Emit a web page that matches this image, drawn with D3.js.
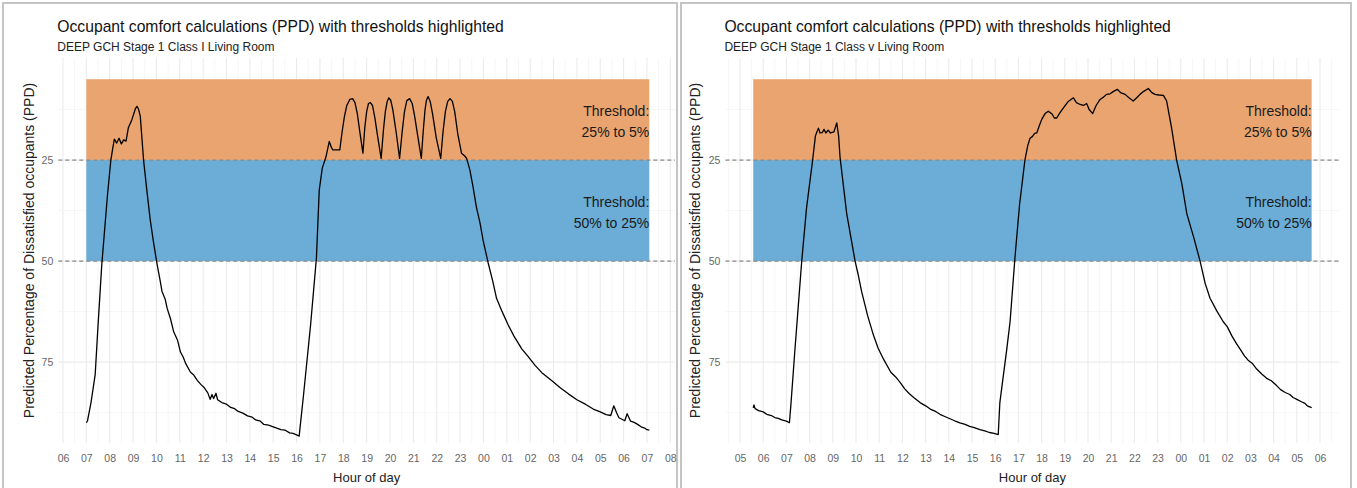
<!DOCTYPE html>
<html><head><meta charset="utf-8">
<script src="https://cdn.jsdelivr.net/npm/d3@7"></script>
<style>
html,body{margin:0;padding:0;background:#fff;}
svg{display:block;font-family:"Liberation Sans",Arial,sans-serif;}
</style></head>
<body>
<svg id="chart" width="1357" height="488"></svg>
<script>
// ---------- DATA ----------
const chartTitle = "Occupant comfort calculations (PPD) with thresholds highlighted";
const subtitles = ["DEEP GCH Stage 1 Class I Living Room", "DEEP GCH Stage 1 Class v Living Room"];
const yAxisTitle = "Predicted Percentage of Dissatisfied occupants (PPD)";
const xAxisTitle = "Hour of day";

// hours counted from midnight of day 1 (24+ = next day)
const leftHours = [7.00,7.05,7.2,7.38,7.5,7.66,7.9,8.05,8.12,8.2,8.3,8.4,8.5,8.6,8.7,8.8,8.95,9.1,9.17,9.24,9.31,9.45,9.6,9.74,9.88,10.03,10.15,10.24,10.38,10.46,10.6,10.74,10.9,11.03,11.15,11.25,11.46,11.6,11.75,11.9,12.03,12.2,12.3,12.38,12.45,12.55,12.62,12.8,13.0,13.18,13.35,13.5,13.7,13.9,14.1,14.25,14.45,14.6,14.8,15.0,15.15,15.33,15.5,15.7,15.85,16.0,16.11,16.3,16.6,16.85,16.97,17.1,17.26,17.4,17.5,17.55,17.85,17.95,18.05,18.15,18.28,18.4,18.5,18.6,18.72,18.84,18.92,19.0,19.08,19.16,19.25,19.35,19.48,19.62,19.72,19.8,19.88,19.95,20.03,20.12,20.26,20.41,20.52,20.62,20.72,20.84,20.95,21.05,21.2,21.34,21.42,21.5,21.56,21.63,21.72,21.82,21.98,22.17,22.27,22.37,22.47,22.57,22.67,22.77,22.9,23.06,23.2,23.28,23.42,23.55,23.7,23.85,23.99,24.2,24.4,24.56,24.8,25.06,25.3,25.64,25.9,26.21,26.5,26.93,27.3,27.65,28.0,28.36,28.7,29.0,29.25,29.45,29.58,29.7,29.8,30.05,30.15,30.3,30.45,30.6,30.75,30.9,31.0,31.1];
const leftPPD   = [90,89.5,85,78,66,51,34,25,22.5,19.8,20.8,19.6,21,20,20.3,17,15,12.3,11.7,12.5,14.2,25,33,40,45.5,50.8,54.5,57.5,59.5,61.7,64.2,67.5,69.5,72.5,73.8,75.3,77.5,78.2,79.5,80.5,81.2,82.6,84.2,83,84,82.7,84.3,85,85.4,86.2,86.5,87.2,87.6,88.3,88.6,89.3,89.6,90.4,90.6,91.0,91.3,91.7,91.8,92.5,92.6,93.0,93.3,83,65.8,49.2,32.5,27,24.2,20.4,22,22.5,22.5,18,14.2,11.5,10.0,9.8,10.8,13.5,18.5,23.3,17,13,11,10.8,11.5,14.5,19.5,24.6,17.5,13,10.5,9.6,10.2,12.5,18,24.6,18,13,10.3,9.8,11,14,19.5,24.6,18,12.5,10.2,9.3,10.5,13.5,19.5,24.6,18,13,10.5,9.8,10.5,13,18.5,23.3,24,24.6,27.5,31.5,36.7,40.5,45,50.4,55,59.2,62.5,65.8,68.5,71.7,73.5,75.8,77.6,79.6,81.4,82.9,84.3,85.4,86.6,87.3,88,88.2,85.8,87.5,88.75,89.5,87.75,89.6,89.9,90.4,91,91.3,91.7,91.8];

const rightHours = [5.57,5.6,5.65,5.8,6.0,6.15,6.35,6.5,6.65,6.8,7.0,7.13,7.2,7.37,7.66,7.87,8.13,8.25,8.38,8.45,8.55,8.62,8.7,8.8,8.9,9.05,9.17,9.25,9.31,9.6,9.96,10.1,10.24,10.5,10.75,10.95,11.18,11.5,11.7,11.9,12.1,12.3,12.5,12.76,13.0,13.2,13.4,13.62,13.85,14.05,14.25,14.48,14.7,14.9,15.1,15.34,15.55,15.75,15.95,16.13,16.2,16.5,16.64,16.85,17.05,17.28,17.4,17.5,17.6,17.7,17.79,17.9,18.0,18.15,18.29,18.45,18.55,18.65,18.8,18.94,19.15,19.37,19.5,19.66,19.8,19.94,20.05,20.2,20.35,20.52,20.65,20.8,20.95,21.1,21.26,21.4,21.6,21.75,21.95,22.1,22.24,22.4,22.6,22.75,22.89,23.05,23.25,23.39,23.6,23.82,24.05,24.26,24.55,24.83,25.05,25.26,25.55,25.83,26.0,26.2,26.4,26.55,26.75,26.9,27.1,27.27,27.5,27.7,27.9,28.13,28.3,28.5,28.7,28.84,29.0,29.2,29.35,29.45,29.64];
const rightPPD   = [86.3,85.6,86.5,87,87.3,87.9,88.2,88.7,88.9,89.3,89.6,90,85,71.7,50,36.7,25,19,17.1,18.3,18.2,17.4,18.3,17.6,18.3,18,15.8,19,24.2,38.3,50,53.5,57.5,63.5,68.3,71.5,74.2,77.5,78.6,80,81.6,82.8,83.8,85,85.8,86.6,87.1,87.9,88.5,89,89.5,90,90.4,90.9,91.2,91.7,92.0,92.4,92.6,92.9,85,71.7,65,49.2,36,25,21.5,19.6,19.2,18.4,18.3,16.5,15,13.5,12.9,13.6,14.6,14.6,13.2,12.1,10.5,9.6,10.8,11.25,11.5,11,12.5,13.5,11.5,10,9.5,8.75,8.6,8.0,7.5,8.3,8.75,9.5,10.4,9.6,8.75,8.0,7.3,8.3,8.75,8.9,9,10.4,17,25,31,38.3,44,50,55.5,59.2,62.3,65,66.2,68.5,70.4,71.7,73.5,74.5,75.4,76.7,78,79,79.6,80.8,81.8,82.5,83,83.75,84.2,84.8,85.2,85.8,86.25];

const leftTickHours  = [6,7,8,9,10,11,12,13,14,15,16,17,18,19,20,21,22,23,24,25,26,27,28,29,30,31,32];
const leftTickLabels = ["06","07","08","09","10","11","12","13","14","15","16","17","18","19","20","21","22","23","00","01","02","03","04","05","06","07","08"];
const rightTickHours  = [5,6,7,8,9,10,11,12,13,14,15,16,17,18,19,20,21,22,23,24,25,26,27,28,29,30];
const rightTickLabels = ["05","06","07","08","09","10","11","12","13","14","15","16","17","18","19","20","21","22","23","00","01","02","03","04","05","06"];

const yTicks = [25, 50, 75];
const yMinorTicks = [12.5, 37.5, 62.5, 87.5];
const bandNames  = ["Threshold:\n25% to 5%", "Threshold:\n50% to 25%"];
const bandLow    = [5, 25];
const bandHigh   = [25, 50];
const bandColors = ["#E89D65", "#60A7D3"];
const dashedLevels = [25, 50];

// ---------- DRAW ----------
const svg = d3.select("#chart");

function drawPanel(cfg) {
  const g = svg.append("g");
  g.append("rect").attr("x", cfg.frame[0]).attr("y", 3).attr("width", cfg.frame[1]-cfg.frame[0]).attr("height", 490)
    .attr("fill","none").attr("stroke","#C4C4C4").attr("stroke-width",2);

  const x = d3.scaleLinear().domain(cfg.xDomain).range([cfg.left, cfg.right]);
  const y = d3.scaleLinear().domain([-0.25, 95]).range([58, 443]);
  const minorX = d3.range(Math.ceil(cfg.xDomain[0]*2)/2, cfg.xDomain[1], 0.5).filter(v => v % 1 !== 0);

  const grid = g.append("g");
  grid.selectAll(".hmin").data(yMinorTicks).join("line")
    .attr("x1", cfg.left).attr("x2", cfg.right).attr("y1", d=>y(d)).attr("y2", d=>y(d))
    .attr("stroke","#F0F0F0").attr("stroke-width",0.6);
  grid.selectAll(".vmin").data(minorX).join("line")
    .attr("y1", 58).attr("y2", 443).attr("x1", d=>x(d)).attr("x2", d=>x(d))
    .attr("stroke","#F0F0F0").attr("stroke-width",0.6);
  grid.selectAll(".hmaj").data(yTicks).join("line")
    .attr("x1", cfg.left).attr("x2", cfg.right).attr("y1", d=>y(d)).attr("y2", d=>y(d))
    .attr("stroke","#EBEBEB").attr("stroke-width",1.1);
  grid.selectAll(".vmaj").data(cfg.tickHours).join("line")
    .attr("y1", 58).attr("y2", 443).attr("x1", d=>x(d)).attr("x2", d=>x(d))
    .attr("stroke","#EBEBEB").attr("stroke-width",1.1);

  const x0 = d3.min(cfg.hours), x1 = d3.max(cfg.hours);
  g.selectAll(".band").data(bandLow).join("rect")
    .attr("x", x(x0)).attr("width", x(x1)-x(x0))
    .attr("y", (d,i)=>y(bandLow[i])).attr("height", (d,i)=>y(bandHigh[i])-y(bandLow[i]))
    .attr("fill", (d,i)=>bandColors[i]).attr("opacity",0.93);

  g.selectAll(".dash").data(dashedLevels).join("line")
    .attr("x1", cfg.left).attr("x2", cfg.right).attr("y1", d=>y(d)).attr("y2", d=>y(d))
    .attr("stroke","#8A8A8A").attr("stroke-width",1.2).attr("stroke-dasharray","4,3");

  bandNames.forEach((name,i) => {
    const mid = (bandLow[i]+bandHigh[i])/2;
    const lines = name.split("\n");
    const t = g.append("text").attr("text-anchor","end").attr("font-size",14).attr("fill","#1a1a1a");
    lines.forEach((ln,j) => {
      t.append("tspan").attr("x", x(x1)).attr("y", y(mid) + (j===0 ? -4 : 17)).text(ln);
    });
  });

  const pts = cfg.hours.map((h,i)=>[h, cfg.values[i]]);
  g.append("path").datum(pts)
    .attr("d", d3.line().x(d=>x(d[0])).y(d=>y(d[1])))
    .attr("fill","none").attr("stroke","#000").attr("stroke-width",1.3).attr("stroke-linejoin","round");

  const xAxis = d3.axisBottom(x).tickValues(cfg.tickHours).tickFormat((d,i)=>cfg.tickLabels[i]).tickSize(0).tickPadding(0);
  const xa = g.append("g").attr("transform","translate(0,455)").call(xAxis);
  xa.select(".domain").remove();
  xa.selectAll("text").attr("font-size",10.5).attr("fill","#666").attr("font-family","Liberation Sans, Arial, sans-serif");

  const yAxis = d3.axisLeft(y).tickValues(yTicks).tickSize(0).tickPadding(0);
  const ya = g.append("g").attr("transform",`translate(${cfg.left-5},0)`).call(yAxis);
  ya.select(".domain").remove();
  ya.selectAll("text").attr("font-size",10.5).attr("fill","#666").attr("font-family","Liberation Sans, Arial, sans-serif");

  g.append("text").attr("x", cfg.left-1).attr("y", 32).attr("font-size",15.7).attr("fill","#111").text(chartTitle);
  g.append("text").attr("x", cfg.left-1).attr("y", 51).attr("font-size",12).attr("fill","#222").text(cfg.subtitle);
  g.append("text").attr("x", (cfg.left+cfg.right)/2).attr("y", 482).attr("text-anchor","middle").attr("font-size",13).attr("fill","#222").text(xAxisTitle);
  g.append("text").attr("transform", `translate(${cfg.yTitleX},${(58+443)/2}) rotate(-90)`).attr("text-anchor","middle")
    .attr("font-size",14).attr("fill","#222").text(yAxisTitle);
}

drawPanel({frame:[3,677], left:58.3, right:675, xDomain:[5.8,32.2], hours:leftHours, values:leftPPD,
  tickHours:leftTickHours, tickLabels:leftTickLabels, subtitle:subtitles[0], yTitleX:34});
drawPanel({frame:[681,1351], left:725.4, right:1339.5, xDomain:[4.37,30.84], hours:rightHours, values:rightPPD,
  tickHours:rightTickHours, tickLabels:rightTickLabels, subtitle:subtitles[1], yTitleX:700});
</script>
</body></html>
